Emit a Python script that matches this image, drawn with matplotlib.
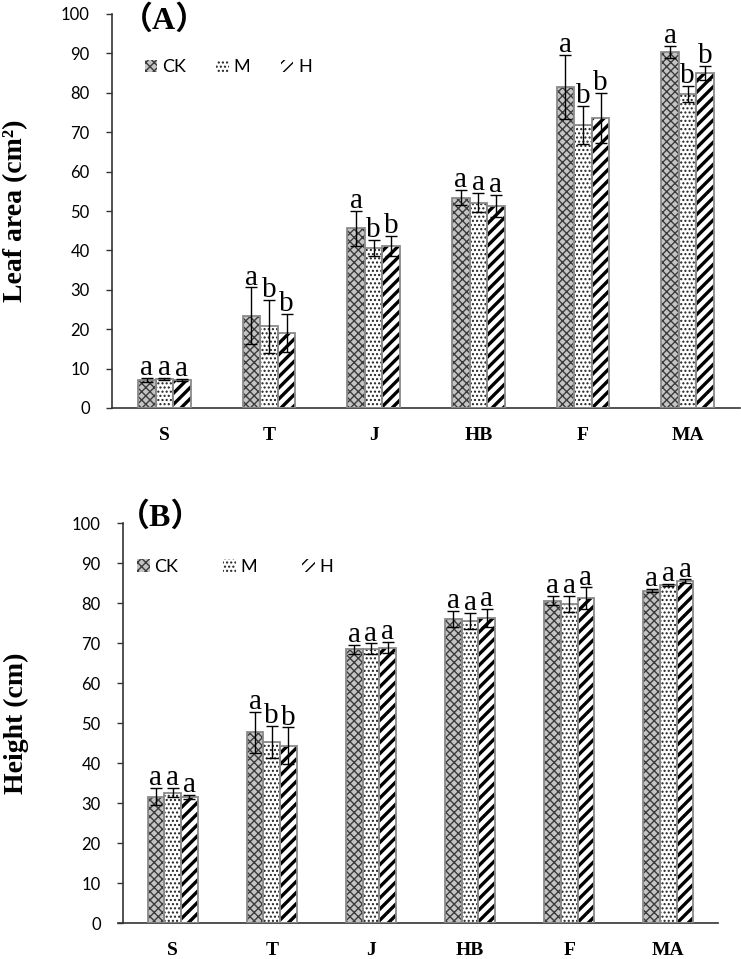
import matplotlib
matplotlib.use('Agg')
import matplotlib.pyplot as plt
import numpy as np

# stages along the x axis
stages = ['S', 'T', 'J', 'HB', 'F', 'MA']
treatments = ['CK', 'M', 'H']

# (A) leaf area (cm2), mean and error per treatment
leaf_ck = [7.1, 23.4, 45.6, 53.4, 81.5, 90.4]
leaf_m = [7.3, 20.7, 40.6, 52.1, 71.9, 79.7]
leaf_h = [7.1, 19.0, 41.1, 51.2, 73.6, 85.0]
leaf_ck_err = [0.5, 7.2, 4.5, 2.0, 8.1, 1.5]
leaf_m_err = [0.3, 6.7, 2.0, 2.4, 4.8, 2.0]
leaf_h_err = [0.2, 4.8, 2.5, 2.8, 6.4, 1.8]
leaf_letters = [['a', 'a', 'a', 'a', 'a', 'a'],
                ['a', 'b', 'b', 'a', 'b', 'b'],
                ['a', 'b', 'b', 'a', 'b', 'b']]

# (B) plant height (cm)
height_ck = [31.6, 47.7, 68.4, 76.0, 80.6, 83.1]
height_m = [32.6, 45.3, 68.6, 75.5, 79.7, 84.5]
height_h = [31.6, 44.3, 68.8, 76.2, 81.2, 85.5]
height_ck_err = [2.2, 5.1, 1.2, 2.0, 1.2, 0.4]
height_m_err = [1.2, 4.0, 1.3, 2.0, 2.0, 0.3]
height_h_err = [0.5, 4.6, 1.4, 2.3, 2.7, 0.4]
height_letters = [['a', 'a', 'a', 'a', 'a', 'a'],
                  ['a', 'b', 'a', 'a', 'a', 'a'],
                  ['a', 'b', 'a', 'a', 'a', 'a']]

# look of each treatment: face, hatch, hatch colour, hatch width
styles = [('#c4c4c4', 'xxxx', '#3c3c3c', 1.0),
          ('white', '....', '#202020', 1.0),
          ('white', '///', 'black', 2.4)]

serif = 'Liberation Serif'
sans = 'Lato'


def draw_panel(ax, means, errs, letters, label, leg_pos, colspace):
    x = np.arange(len(stages))
    w = 0.168
    handles = []
    for i in range(3):
        face, hatch, hcol, hlw = styles[i]
        pos = x + (i - 1) * w
        with plt.rc_context({'hatch.linewidth': hlw}):
            b = ax.bar(pos, means[i], w, color=face, hatch=hatch,
                       edgecolor=hcol, linewidth=0, zorder=2)
        for p in b:
            if hasattr(p, 'set_hatch_linewidth'):
                p.set_hatch_linewidth(hlw)
        ax.bar(pos, means[i], w, fill=False, edgecolor='#8a8a8a',
               linewidth=1.3, zorder=3)
        ax.errorbar(pos, means[i], yerr=errs[i], fmt='none', ecolor='black',
                    elinewidth=1.0, capsize=4, capthick=1.0, zorder=4)
        for j in range(len(stages)):
            ax.annotate(letters[i][j], (pos[j], means[i][j] + errs[i][j]),
                        xytext=(0, 2), textcoords='offset points',
                        ha='center', va='baseline', fontsize=21,
                        family=serif, zorder=5)
        handles.append(b)

    ax.set_xlim(-0.5, len(stages) - 0.5)
    ax.set_ylim(0, 100)
    ax.set_yticks(np.arange(0, 101, 10))
    ax.set_xticks(x)
    ax.set_xticklabels(stages, family=serif, fontweight='bold', fontsize=14)
    ax.tick_params(axis='x', length=0, pad=14)
    ax.tick_params(axis='y', direction='out', length=4, width=1,
                   color='#333333', pad=12, labelsize=12)
    for t in ax.get_yticklabels():
        t.set_family(sans)
    for s in ['top', 'right']:
        ax.spines[s].set_visible(False)
    for s in ['left', 'bottom']:
        ax.spines[s].set_color('#333333')
        ax.spines[s].set_linewidth(1.2)
    ax.set_ylabel(label, family=serif, fontweight='bold', fontsize=20,
                  va='center')

    ax.legend(handles, treatments, loc='center left', bbox_to_anchor=leg_pos,
              ncol=3, frameon=False, borderpad=0, borderaxespad=0,
              handlelength=0.7, handleheight=0.7, handletextpad=0.25,
              columnspacing=colspace, prop={'family': sans, 'size': 13})


fig = plt.figure(figsize=(7.41, 9.59), dpi=100)
axA = fig.add_axes([112 / 741, 1 - 408 / 959, (740 - 112) / 741, 394 / 959])
axB = fig.add_axes([123 / 741, 1 - 923 / 959, (718 - 123) / 741, 400 / 959])

draw_panel(axA, [leaf_ck, leaf_m, leaf_h],
           [leaf_ck_err, leaf_m_err, leaf_h_err], leaf_letters,
           'Leaf area (cm²)', (0.052, 0.865), 1.7)
draw_panel(axB, [height_ck, height_m, height_h],
           [height_ck_err, height_m_err, height_h_err], height_letters,
           'Height (cm)', (0.024, 0.89), 2.5)

axA.yaxis.set_label_coords((16 - 112) / 628, 0.5)
axB.yaxis.set_label_coords((16 - 123) / 595, 0.5)

# x axis of panel B runs a little past the y axis
axB.plot([-0.009, 0], [0, 0], transform=axB.transAxes, color='#333333',
         linewidth=1.2, clip_on=False)

fig.text(164 / 741, 1 - 20 / 959, '（A）', ha='center', va='center',
         fontsize=23, fontweight='bold', family=[serif, 'Noto Sans CJK SC'])
fig.text(161 / 741, 1 - 517 / 959, '（B）', ha='center', va='center',
         fontsize=23, fontweight='bold', family=[serif, 'Noto Sans CJK SC'])

fig.savefig('out.png', dpi=100)
